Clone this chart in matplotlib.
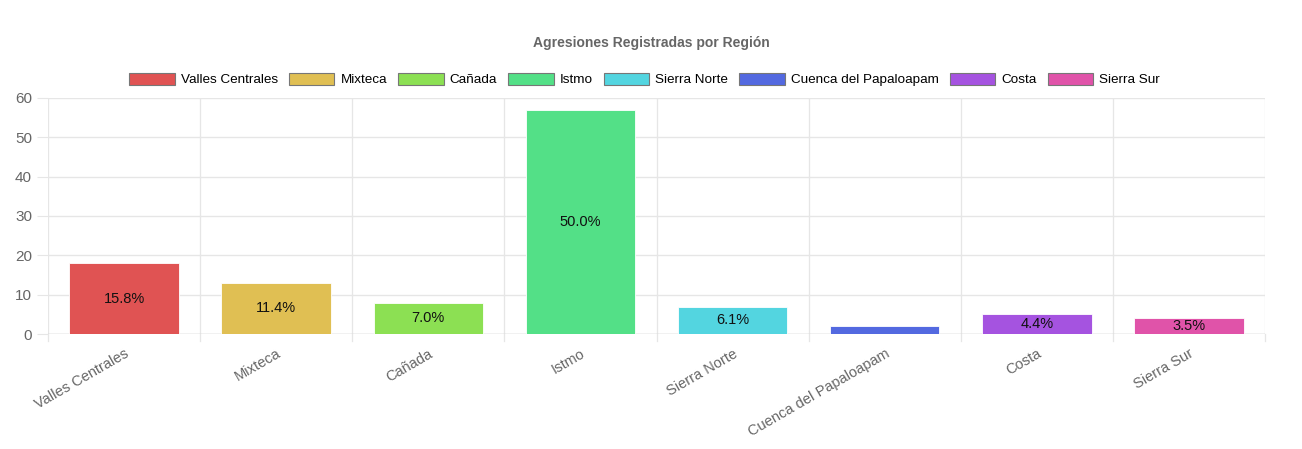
import matplotlib.pyplot as plt
from matplotlib.patches import Patch

plt.rcParams['font.family'] = ['Liberation Sans', 'DejaVu Sans']

regions = ['Valles Centrales', 'Mixteca', 'Cañada', 'Istmo', 'Sierra Norte',
           'Cuenca del Papaloapam', 'Costa', 'Sierra Sur']
counts = [18, 13, 8, 57, 7, 2, 5, 4]
colors = ['#e05353', '#e0bf53', '#8ce053', '#53e087', '#53d5e0',
          '#5369e0', '#a553e0', '#e053a9']

total = sum(counts)
grid_c = '#e6e6e6'
text_c = '#666666'

fig = plt.figure(figsize=(13.02, 4.49), dpi=100)
ax = fig.add_axes([0.0369, 0.256, 0.9347, 0.526])

x = list(range(len(regions)))
bars = ax.bar(x, counts, width=0.72, color=colors, edgecolor='white', linewidth=0.6, zorder=3)

for b, c in zip(bars, counts):
    pct = c / total * 100
    if pct >= 3:
        ax.text(b.get_x() + b.get_width() / 2, c / 2, f'{pct:.1f}%',
                ha='center', va='center', fontsize=10.5, color='#111111', zorder=4)

ax.set_xlim(-0.5, len(regions) - 0.5)
ax.set_ylim(0, 60)
ax.set_yticks(range(0, 61, 10))
ax.set_xticks(x)
ax.set_xticklabels(regions, rotation=30, ha='right', rotation_mode='anchor',
                   fontsize=10.5, color=text_c)
ax.tick_params(axis='y', labelsize=11, colors=text_c, length=8, color=grid_c)
ax.tick_params(axis='x', length=0, pad=9)

# category boundary grid lines (Chart.js style)
for b in [i - 0.5 for i in range(len(regions) + 1)]:
    ax.axvline(b, color=grid_c, linewidth=0.9, zorder=1)
    ax.plot([b, b], [0, -0.03], transform=ax.get_xaxis_transform(),
            color=grid_c, linewidth=0.9, clip_on=False)
ax.grid(axis='y', color=grid_c, linewidth=1, zorder=1)
for s in ax.spines.values():
    s.set_visible(False)
ax.axhline(0, color='#d0d0d0', linewidth=1, zorder=2)

fig.text(0.5, 0.905, 'Agresiones Registradas por Región', ha='center', va='center',
         fontsize=10, fontweight='bold', color=text_c)

handles = [Patch(facecolor=c, edgecolor='#777777', linewidth=0.8) for c in colors]
fig.legend(handles, regions, loc='center', bbox_to_anchor=(0.495, 0.823), ncol=8,
           frameon=False, fontsize=9.7, handlelength=3.4, handleheight=1.05,
           handletextpad=0.45, columnspacing=0.8)

fig.savefig('out.png', dpi=100)
